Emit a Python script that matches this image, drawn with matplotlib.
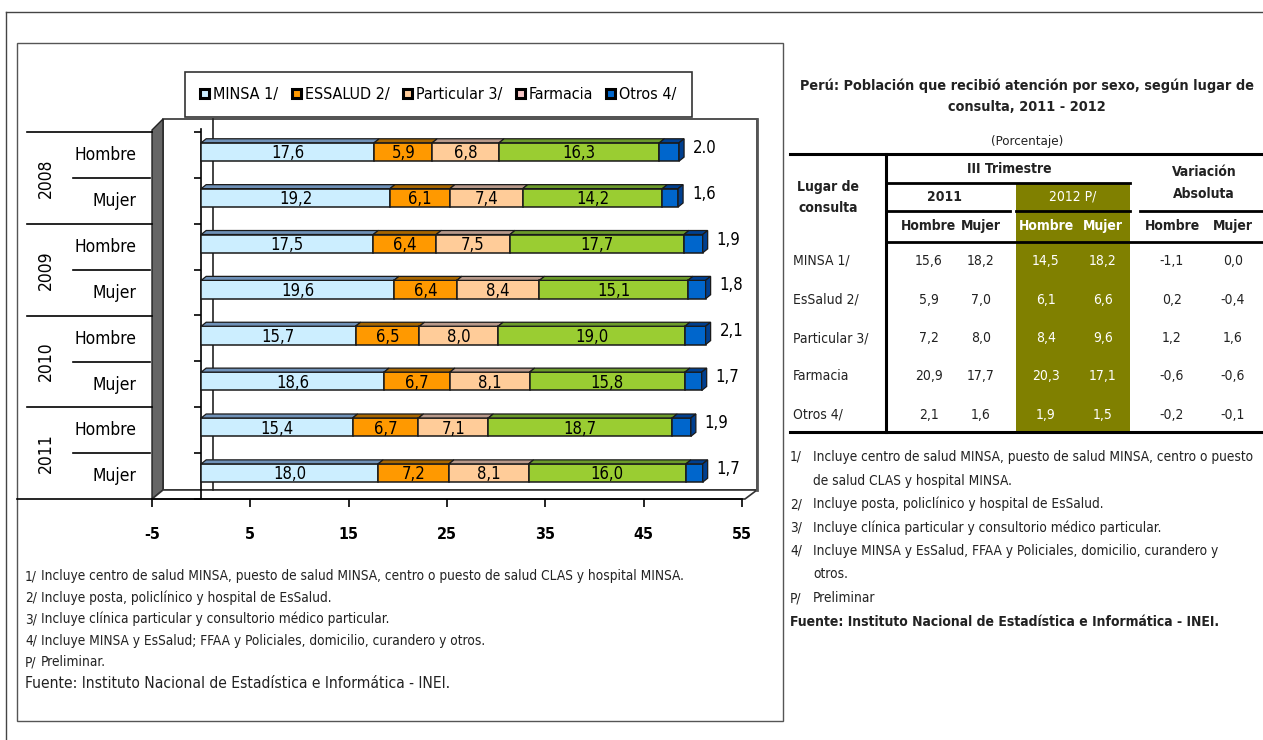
import numpy as np
import matplotlib
matplotlib.use('Agg')
import matplotlib.pyplot as plt
from matplotlib.patches import Polygon, Rectangle, Patch
from matplotlib.transforms import blended_transform_factory

plt.rcParams['font.family'] = ['DejaVu Sans']
plt.rcParams['font.stretch'] = 'condensed'

# chart data (percent)
years = ['2008', '2009', '2010', '2011']
sexes = ['Hombre', 'Mujer']
series = ['MINSA 1/', 'ESSALUD 2/', 'Particular 3/', 'Farmacia', 'Otros 4/']
minsa = [17.6, 19.2, 17.5, 19.6, 15.7, 18.6, 15.4, 18.0]
essalud = [5.9, 6.1, 6.4, 6.4, 6.5, 6.7, 6.7, 7.2]
particular = [6.8, 7.4, 7.5, 8.4, 8.0, 8.1, 7.1, 8.1]
farmacia = [16.3, 14.2, 17.7, 15.1, 19.0, 15.8, 18.7, 16.0]
otros = [2.0, 1.6, 1.9, 1.8, 2.1, 1.7, 1.9, 1.7]
otros_labels = ['2.0', '1,6', '1,9', '1,8', '2,1', '1,7', '1,9', '1,7']
xticks = [-5, 5, 15, 25, 35, 45, 55]

# table data
lugares = ['MINSA 1/', 'EsSalud 2/', 'Particular 3/', 'Farmacia', 'Otros 4/']
t2011_h = [15.6, 5.9, 7.2, 20.9, 2.1]
t2011_m = [18.2, 7.0, 8.0, 17.7, 1.6]
t2012_h = [14.5, 6.1, 8.4, 20.3, 1.9]
t2012_m = [18.2, 6.6, 9.6, 17.1, 1.5]
var_h = [-1.1, 0.2, 1.2, -0.6, -0.2]
var_m = [0.0, -0.4, 1.6, -0.6, -0.1]

face_colors = ['#CCEEFF', '#FF9900', '#FFCC99', '#9ACD32', '#0066CC']
top_colors = ['#6F91B8', '#A86600', '#B8998A', '#6B9A2A', '#003F8F']
legend_colors = ['#CCEEFF', '#FF9900', '#FFCC99', '#F6C6C6', '#0066CC']

W, H = 1263, 740
fig = plt.figure(figsize=(W / 100, H / 100), dpi=100)

# background axes in pixel coordinates
bg = fig.add_axes([0, 0, 1, 1])
bg.set_xlim(0, W)
bg.set_ylim(H, 0)
bg.axis('off')

def fmt(v):
    return f'{v:.1f}'.replace('.', ',')

# frames
bg.plot([6, W], [12, 12], color='#444444', lw=1)
bg.plot([6, 6], [12, H], color='#444444', lw=1)
bg.add_patch(Rectangle((17, 43), 766, 678, fill=False, ec='#555555', lw=1))

# 3D wall and floor
bg.add_patch(Polygon([(163, 119), (757, 119), (757, 490), (163, 490)],
                     closed=True, fc='white', ec='#333333', lw=1.2))
bg.add_patch(Polygon([(152, 130), (163, 119), (163, 490), (152, 499)],
                     closed=True, fc='#666666', ec='#222222', lw=1))
bg.add_patch(Polygon([(152, 499), (163, 490), (757, 490), (745, 499)],
                     closed=True, fc='white', ec='#333333', lw=1.2))
bg.plot([757, 757], [119, 490], color='#555555', lw=2)
bg.plot([213, 213], [119, 490], color='#222222', lw=1.2)

# category table on the left
for yy in [132, 224, 316, 407, 499]:
    bg.plot([17 if yy == 499 else 27, 152], [yy, yy], color='black', lw=1.2)
for yy in [178, 270, 362, 453]:
    bg.plot([73, 150], [yy, yy], color='black', lw=1.2)

# chart axes: front plane
x0, x1 = -5, 55
ax = fig.add_axes([152 / W, (H - 499) / H, 590 / W, 370 / H])
ax.patch.set_visible(False)
ax.set_xlim(x0, x1)
ax.set_ylim(7.566, -0.5)
pxx = 590 / (x1 - x0)
pxy = 45.9
dx, dy = 5 / pxx, 4 / pxy
h = 0.2

rows = np.arange(len(minsa))
data = [minsa, essalud, particular, farmacia, otros]
left = np.zeros(len(rows))
for k, vals in enumerate(data):
    vals = np.array(vals)
    ax.barh(rows, vals, left=left, height=2 * h, color=face_colors[k],
            edgecolor='#1a1a1a', linewidth=1.1, zorder=3)
    for i in rows:
        l, r = left[i], left[i] + vals[i]
        ax.add_patch(Polygon([(l, i - h), (r, i - h), (r + dx, i - h - dy), (l + dx, i - h - dy)],
                             closed=True, fc=top_colors[k], ec='#1a1a1a', lw=0.9, zorder=3))
        if k == len(data) - 1:
            ax.add_patch(Polygon([(r, i - h), (r + dx, i - h - dy), (r + dx, i + h - dy), (r, i + h)],
                                 closed=True, fc=top_colors[k], ec='#1a1a1a', lw=0.9, zorder=3))
            ax.text(r + 1.4, i - 0.09, otros_labels[i], ha='left', va='center',
                    fontsize=12, color='black')
        else:
            ax.text((l + r) / 2, i + 0.03, fmt(vals[i]), ha='center', va='center',
                    fontsize=12, color='black', zorder=4)
    left = left + vals

ax.spines['top'].set_visible(False)
ax.spines['right'].set_visible(False)
ax.spines['left'].set_position(('data', 0))
ax.spines['left'].set_linewidth(1.2)
ax.spines['bottom'].set_linewidth(1.2)
ax.set_yticks(np.arange(9) - 0.436)
ax.set_yticklabels([])
ax.tick_params(axis='y', direction='out', length=5, width=1.2)
ax.set_xticks(xticks)
ax.set_xticklabels([str(t) for t in xticks], fontsize=11.5, fontweight='bold')
ax.tick_params(axis='x', direction='out', length=6, width=1.2, pad=14)

# category labels
tr = blended_transform_factory(bg.transData, ax.transData)
for i in rows:
    ax.text(136, i + 0.07, sexes[i % 2], transform=tr, ha='right', va='center', fontsize=12.5)
for j, yr in enumerate(years):
    ax.text(46, 2 * j + 0.57, yr, transform=tr, ha='center', va='center',
            rotation=90, fontsize=12.5)

# legend
handles = [Patch(facecolor=c, edgecolor='black', linewidth=2.2) for c in legend_colors]
leg = fig.legend(handles, series, loc='center', bbox_to_anchor=(438.5 / W, 1 - 94.5 / H),
                 ncol=5, frameon=True, fancybox=False, fontsize=11.5,
                 handlelength=0.55, handleheight=0.55, handletextpad=0.25,
                 columnspacing=0.85, borderpad=0.95)
leg.get_frame().set_edgecolor('black')
leg.get_frame().set_linewidth(1.2)

# left footnotes
notes_left = [
    ('1/', 'Incluye centro de salud MINSA, puesto de salud MINSA, centro o puesto de salud CLAS y hospital MINSA.'),
    ('2/', 'Incluye posta, policlínico y hospital de EsSalud.'),
    ('3/', 'Incluye clínica particular y consultorio médico particular.'),
    ('4/', 'Incluye MINSA y EsSalud; FFAA y Policiales, domicilio, curandero y otros.'),
    ('P/', 'Preliminar.'),
]
for k, (a, b) in enumerate(notes_left):
    y = 576 + 21.6 * k
    bg.text(25, y, a, fontsize=9.8, va='center', color='#222222')
    bg.text(41, y, b, fontsize=9.8, va='center', color='#222222')
bg.text(25, 684, 'Fuente: Instituto Nacional de Estadística e Informática - INEI.',
        fontsize=11.2, va='center', color='#222222')

# right table
bg.text(1027, 86, 'Perú: Población que recibió atención por sexo, según lugar de',
        ha='center', va='center', fontsize=10.4, fontweight='bold', color='#222222')
bg.text(1027, 107, 'consulta, 2011 - 2012', ha='center', va='center', fontsize=10.4,
        fontweight='bold', color='#222222')
bg.text(1027, 141, '(Porcentaje)', ha='center', va='center', fontsize=9.5, color='#222222')

bg.add_patch(Rectangle((1016, 183), 114, 249, fc='#808000', ec='none'))
bg.plot([790, W], [154, 154], color='black', lw=2.2)
bg.plot([790, W], [432, 432], color='black', lw=2.2)
bg.plot([886, 886], [154, 432], color='black', lw=2.2)
bg.plot([886, 1130], [183, 183], color='black', lw=2)
bg.plot([886, 1010], [211, 211], color='black', lw=2)
bg.plot([1016, 1130], [211, 211], color='black', lw=2)
bg.plot([1140, W], [211, 211], color='black', lw=2)
bg.plot([886, W], [242, 242], color='black', lw=2)

hdr = dict(ha='center', va='center', fontsize=10, fontweight='bold', color='#222222')
bg.text(828, 187, 'Lugar de', **hdr)
bg.text(828, 208, 'consulta', **hdr)
bg.text(1009, 169, 'III Trimestre', **hdr)
bg.text(1204, 172, 'Variación', **hdr)
bg.text(1204, 194, 'Absoluta', **hdr)
bg.text(944, 197, '2011', **hdr)
bg.text(1073, 197, '2012 P/', **{**hdr, 'color': 'white', 'fontweight': 'normal'})
col_x = [929, 981, 1046, 1103, 1172, 1233]
for k, lab in enumerate(['Hombre', 'Mujer'] * 3):
    c = 'white' if k in (2, 3) else '#222222'
    bg.text(col_x[k], 226, lab, **{**hdr, 'color': c})

cols = [t2011_h, t2011_m, t2012_h, t2012_m, var_h, var_m]
for r, name in enumerate(lugares):
    y = 261 + 38.5 * r
    bg.text(793, y, name, ha='left', va='center', fontsize=10, color='#222222')
    for k, col in enumerate(cols):
        c = 'white' if k in (2, 3) else '#222222'
        bg.text(col_x[k], y, fmt(col[r]), ha='center', va='center', fontsize=10, color=c)

notes_right = [
    ('1/', 'Incluye centro de salud MINSA, puesto de salud MINSA, centro o puesto'),
    ('', 'de salud CLAS y hospital MINSA.'),
    ('2/', 'Incluye posta, policlínico y hospital de EsSalud.'),
    ('3/', 'Incluye clínica particular y consultorio médico particular.'),
    ('4/', 'Incluye MINSA y EsSalud, FFAA y Policiales, domicilio, curandero y'),
    ('', 'otros.'),
    ('P/', 'Preliminar'),
]
for k, (a, b) in enumerate(notes_right):
    y = 457 + 23.5 * k
    bg.text(790, y, a, fontsize=9.8, va='center', color='#222222')
    bg.text(813, y, b, fontsize=9.8, va='center', color='#222222')
bg.text(790, 622, 'Fuente: Instituto Nacional de Estadística e Informática - INEI.',
        fontsize=10, va='center', fontweight='bold', color='#222222')

fig.savefig('out.png', dpi=100)
